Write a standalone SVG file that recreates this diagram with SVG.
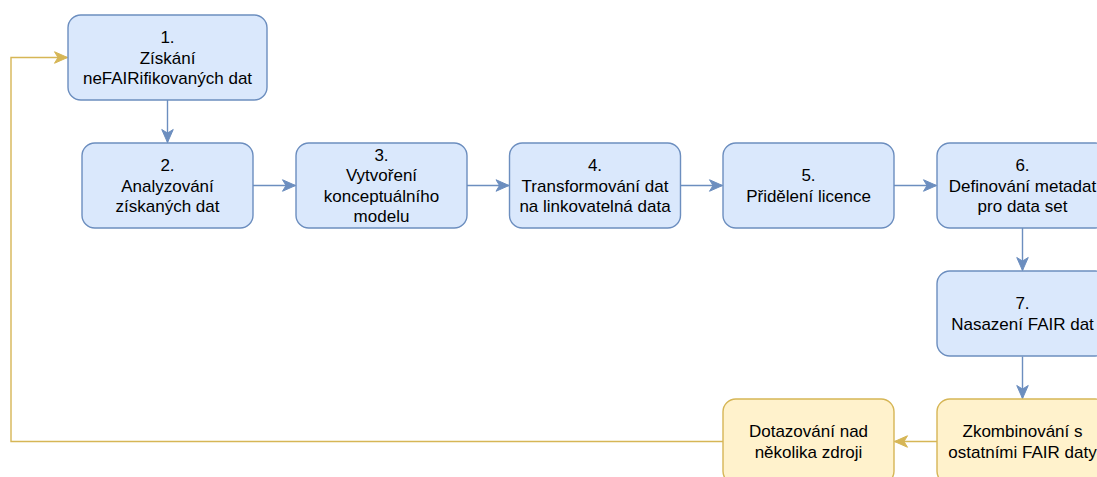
<svg xmlns="http://www.w3.org/2000/svg" width="1097" height="477" viewBox="0 0 1097 477">
  <style>
    .blue { fill: #dae8fc; stroke: #6c8ebf; stroke-width: 1.4; }
    .yellow { fill: #fff2cc; stroke: #d6b656; stroke-width: 1.4; }
    .lbl { font-family: "Liberation Sans", Arial, sans-serif; font-size: 17px; fill: #000; text-anchor: middle; }
    .edge-b { fill: none; stroke: #6c8ebf; stroke-width: 1.4; }
    .edge-y { fill: none; stroke: #d6b656; stroke-width: 1.4; }
  </style>
  <defs>
    <marker id="arrowB" markerUnits="userSpaceOnUse" markerWidth="14" markerHeight="12" refX="13" refY="5.75" orient="auto" overflow="visible">
      <path d="M0,0 L13,5.75 L0,11.5 L3.5,5.75 Z" fill="#6c8ebf" stroke="#6c8ebf" stroke-width="1"/>
    </marker>
    <marker id="arrowY" markerUnits="userSpaceOnUse" markerWidth="14" markerHeight="12" refX="13" refY="5.75" orient="auto" overflow="visible">
      <path d="M0,0 L13,5.75 L0,11.5 L3.5,5.75 Z" fill="#d6b656" stroke="#d6b656" stroke-width="1"/>
    </marker>
  </defs>

  <rect width="1097" height="477" fill="#ffffff"/>

  <!-- connectors -->
  <g id="connectors">
    <path class="edge-b" d="M167.5,100 L167.5,142.5" marker-end="url(#arrowB)"/>
    <path class="edge-b" d="M253,185.5 L295.5,185.5" marker-end="url(#arrowB)"/>
    <path class="edge-b" d="M467,185.5 L509,185.5" marker-end="url(#arrowB)"/>
    <path class="edge-b" d="M680.5,185.5 L722.5,185.5" marker-end="url(#arrowB)"/>
    <path class="edge-b" d="M894,185.5 L936.5,185.5" marker-end="url(#arrowB)"/>
    <path class="edge-b" d="M1022.5,228 L1022.5,270.5" marker-end="url(#arrowB)"/>
    <path class="edge-b" d="M1022.5,356.5 L1022.5,398.5" marker-end="url(#arrowB)"/>
    <path class="edge-y" d="M937,441.5 L894.5,441.5" marker-end="url(#arrowY)"/>
    <path class="edge-y" d="M723,441.5 L11,441.5 L11,57.5 L67.5,57.5" marker-end="url(#arrowY)"/>
  </g>

  <!-- step 1 -->
  <g id="node1">
    <rect class="blue" x="68" y="15" width="199" height="85" rx="12.8"/>
    <text class="lbl"><tspan x="167.5" y="43">1.</tspan><tspan x="167.5" y="63.5">Získání</tspan><tspan x="167.5" y="84">neFAIRifikovaných dat</tspan></text>
  </g>

  <!-- step 2 -->
  <g id="node2">
    <rect class="blue" x="82" y="143" width="171" height="85" rx="12.8"/>
    <text class="lbl"><tspan x="167.5" y="171">2.</tspan><tspan x="167.5" y="191.5">Analyzování</tspan><tspan x="167.5" y="212">získaných dat</tspan></text>
  </g>

  <!-- step 3 -->
  <g id="node3">
    <rect class="blue" x="296" y="143" width="171" height="85" rx="12.8"/>
    <text class="lbl"><tspan x="381.5" y="160.5">3.</tspan><tspan x="381.5" y="181">Vytvoření</tspan><tspan x="381.5" y="201.5">konceptuálního</tspan><tspan x="381.5" y="222">modelu</tspan></text>
  </g>

  <!-- step 4 -->
  <g id="node4">
    <rect class="blue" x="509.5" y="143" width="171" height="85" rx="12.8"/>
    <text class="lbl"><tspan x="595" y="171">4.</tspan><tspan x="595" y="191.5">Transformování dat</tspan><tspan x="595" y="212">na linkovatelná data</tspan></text>
  </g>

  <!-- step 5 -->
  <g id="node5">
    <rect class="blue" x="723" y="143" width="171" height="85" rx="12.8"/>
    <text class="lbl"><tspan x="808.5" y="181.25">5.</tspan><tspan x="808.5" y="201.75">Přidělení licence</tspan></text>
  </g>

  <!-- step 6 -->
  <g id="node6">
    <rect class="blue" x="937" y="143" width="171" height="85" rx="12.8"/>
    <text class="lbl"><tspan x="1022.5" y="171">6.</tspan><tspan x="1022.5" y="191.5">Definování metadat</tspan><tspan x="1022.5" y="212">pro data set</tspan></text>
  </g>

  <!-- step 7 -->
  <g id="node7">
    <rect class="blue" x="937" y="271" width="171" height="85" rx="12.8"/>
    <text class="lbl"><tspan x="1022.5" y="309.25">7.</tspan><tspan x="1022.5" y="329.75">Nasazení FAIR dat</tspan></text>
  </g>

  <!-- combining with other FAIR data -->
  <g id="node8">
    <rect class="yellow" x="937" y="399" width="171" height="85" rx="12.8"/>
    <text class="lbl"><tspan x="1022.5" y="437.25">Zkombinování s</tspan><tspan x="1022.5" y="457.75">ostatními FAIR daty</tspan></text>
  </g>

  <!-- querying over multiple sources -->
  <g id="node9">
    <rect class="yellow" x="723" y="399" width="171" height="85" rx="12.8"/>
    <text class="lbl"><tspan x="808.5" y="437.25">Dotazování nad</tspan><tspan x="808.5" y="457.75">několika zdroji</tspan></text>
  </g>
</svg>
